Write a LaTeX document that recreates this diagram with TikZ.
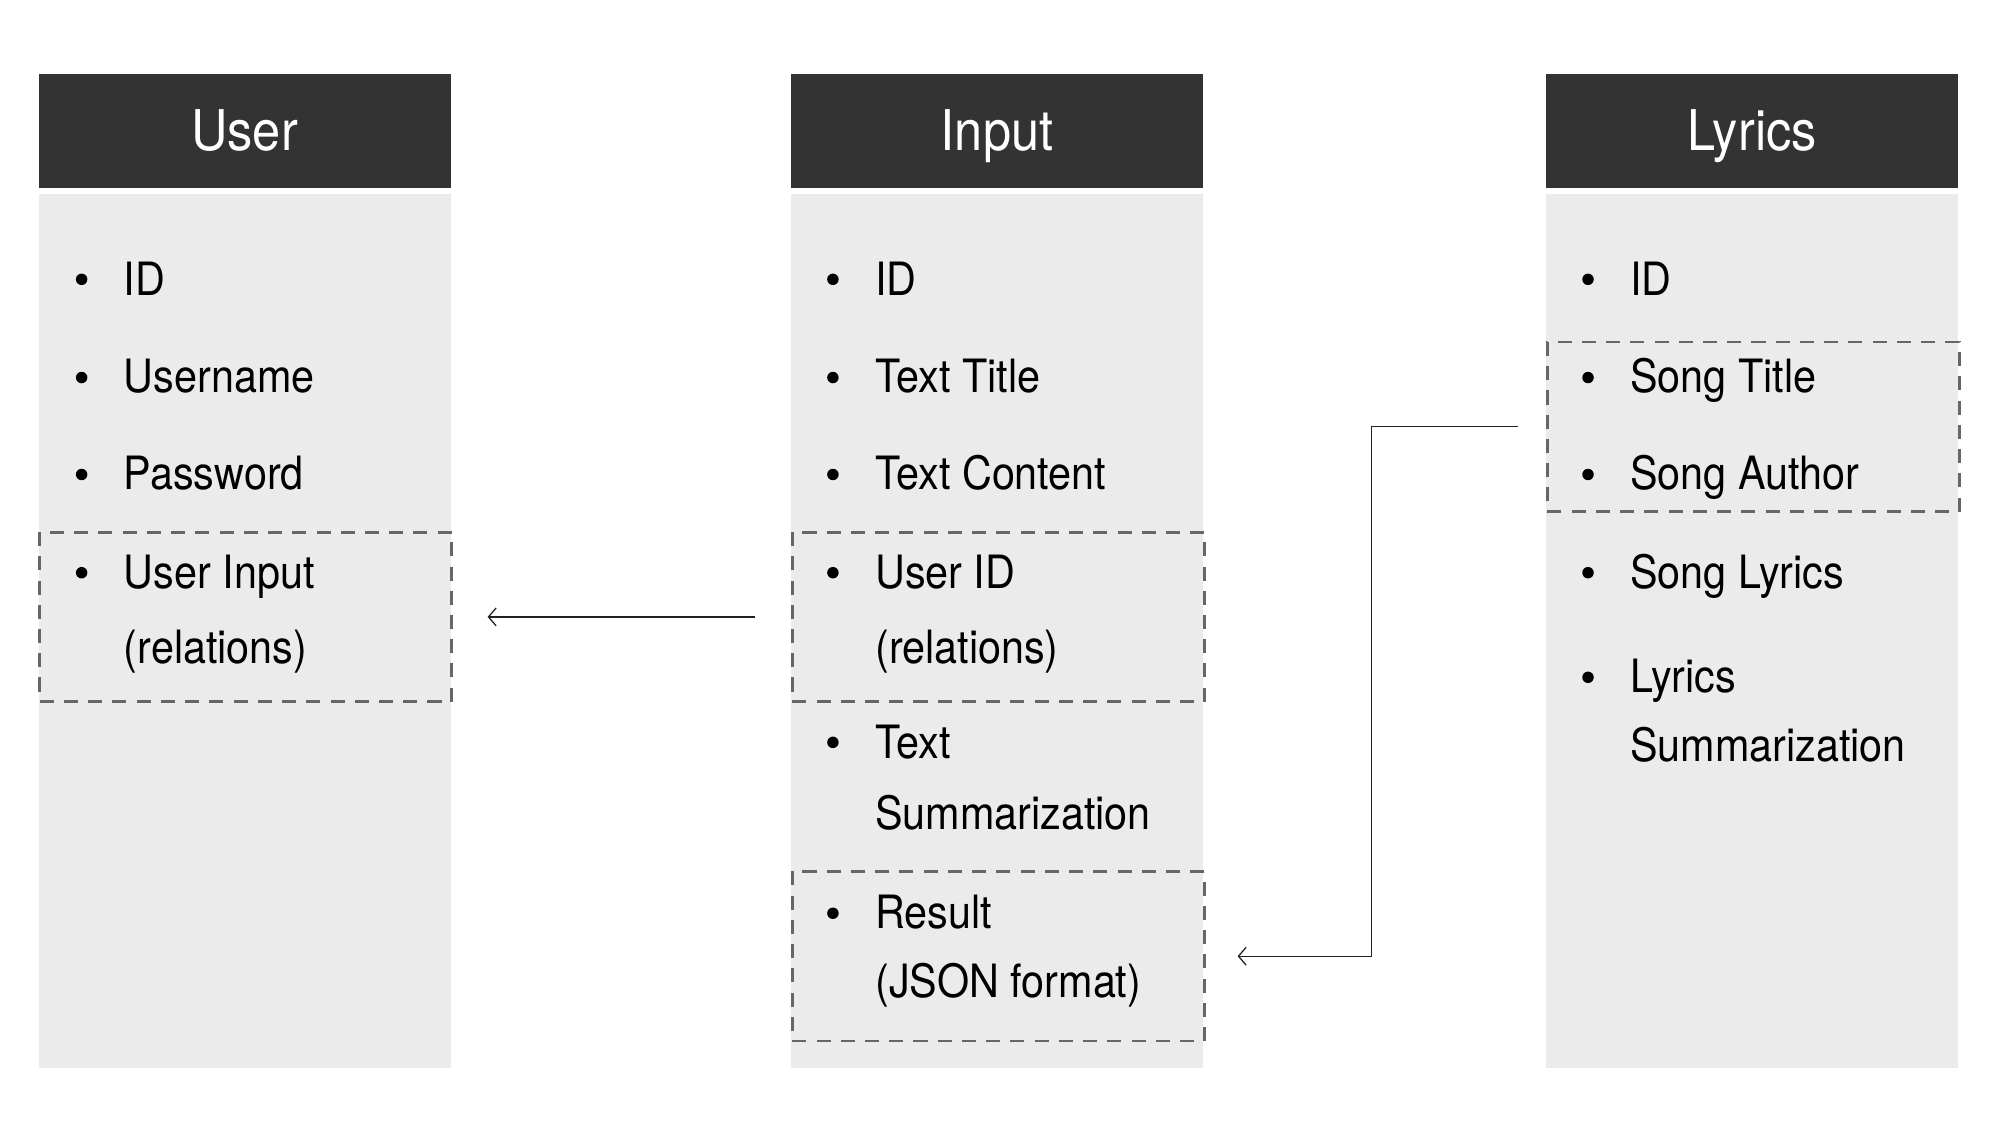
\documentclass[tikz,border=0pt]{standalone}
\usepackage{fontspec}
\setmainfont{TeX Gyre Heros}[FakeStretch=0.9]
\usetikzlibrary{arrows.meta}
\definecolor{hdrgray}{HTML}{333333}
\definecolor{bodygray}{HTML}{EBEBEB}
\definecolor{dashgray}{HTML}{666666}
\definecolor{linegray}{HTML}{222222}
\begin{document}
\begin{tikzpicture}[x=1pt,y=-1pt,
  hdr/.style={fill=hdrgray, draw=none, minimum width=323pt, minimum height=89pt, inner sep=0pt, anchor=north west, text=white, text height=31pt, text depth=0pt, font=\fontsize{44}{50}\selectfont},
  bodybox/.style={fill=bodygray, draw=none, minimum width=323pt, minimum height=685pt, inner sep=0pt, anchor=north west},
  relbox/.style={draw=dashgray, line width=2.3pt, dash pattern=on 11pt off 8pt, fill=none, minimum width=323pt, minimum height=133pt, inner sep=0pt, anchor=north west},
  item/.style={anchor=base west, inner sep=0pt, text=black, font=\fontsize{36}{40}\selectfont},
  conn/.style={draw=linegray, line width=1pt, -{Straight Barb[length=6pt,width=14pt,line width=1pt]}}
]
\useasboundingbox[fill=white] (0,0) rectangle (1568,882);

% ---- headers and bodies
\node[hdr] (uh) at (30,58) {User};
\node[hdr] (ih) at (620,58) {Input};
\node[hdr] (lh) at (1212,58) {Lyrics};
\node[bodybox] (ub) at (30,152) {};
\node[bodybox] (ib) at (620,152) {};
\node[bodybox] (lb) at (1212,152) {};

% ---- bullets
\foreach \bx/\by in {64/219, 64/296, 64/372, 64/449,
                     653/219, 653/296, 653/372, 653/449, 653/582, 653/716,
                     1245/219, 1245/296, 1245/372, 1245/449, 1245/531}
  \fill[black] (\bx,\by) circle (4.5pt);

% ---- User items
\node[item] (u1) at (97,232) {ID};
\node[item] (u2) at (97,308) {Username};
\node[item] (u3) at (97,384) {Password};
\node[item] (u4) at (97,461) {User Input};
\node[item] (u5) at (97,520) {(relations)};

% ---- Input items
\node[item] (i1) at (686,232) {ID};
\node[item] (i2) at (686,308) {Text Title};
\node[item] (i3) at (686,384) {Text Content};
\node[item] (i4) at (686,461) {User ID};
\node[item] (i5) at (686,520) {(relations)};
\node[item] (i6) at (686,595) {Text};
\node[item] (i7) at (686,650) {Summarization};
\node[item] (i8) at (686,728) {Result};
\node[item] (i9) at (686,782) {(JSON format)};

% ---- Lyrics items
\node[item] (l1) at (1278,232) {ID};
\node[item] (l2) at (1278,308) {Song Title};
\node[item] (l3) at (1278,384) {Song Author};
\node[item] (l4) at (1278,461) {Song Lyrics};
\node[item] (l5) at (1278,543) {Lyrics};
\node[item] (l6) at (1278,597) {Summarization};

% ---- dashed relation boxes
\node[relbox] (urel) at (30,416) {};
\node[relbox] (iuid) at (620,416) {};
\node[relbox] (ires) at (620,682) {};
\node[relbox] (lsong) at (1212,267) {};

% ---- connectors
\draw[conn, shorten <=28pt, shorten >=27pt] (iuid.west) -- (urel.east);
\coordinate (bend) at ([xshift=-137pt]lsong.west);
\draw[conn, shorten <=22pt, shorten >=25pt] (lsong.west) -- (bend) |- (ires.east);
\end{tikzpicture}
\end{document}
